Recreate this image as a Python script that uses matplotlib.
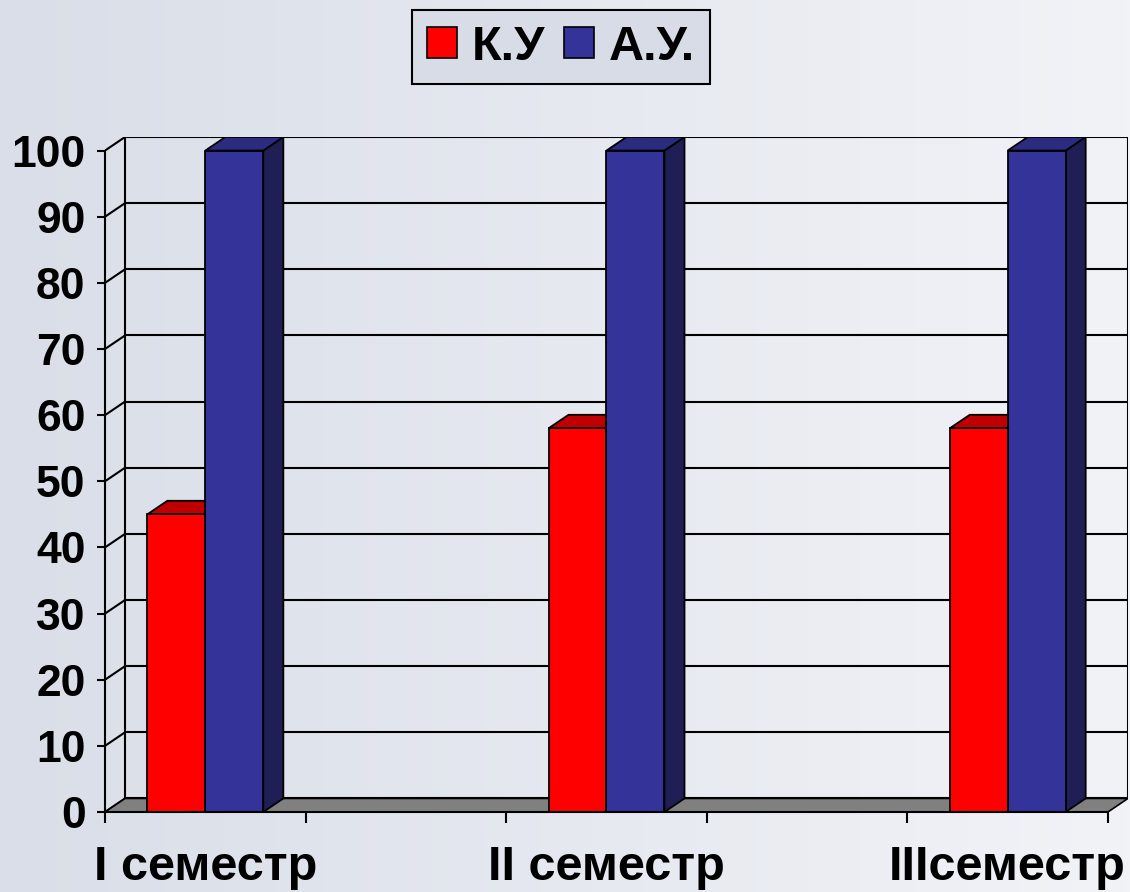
import numpy as np
import matplotlib.pyplot as plt
from matplotlib.patches import Patch, Polygon
from matplotlib.colors import LinearSegmentedColormap

# données
categories = ['I семестр', '', 'II семестр', '', 'IIIсеместр']
ku = [45, None, 58, None, 58]
au = [100, None, 100, None, 100]
series_names = ['К.У', 'А.У.']
yticks = list(range(0, 101, 10))

plt.rcParams['font.family'] = ['Liberation Sans', 'DejaVu Sans']
plt.rcParams['font.weight'] = 'bold'

fig = plt.figure(figsize=(11.3, 8.92), dpi=100)

# fond en dégradé
bg = fig.add_axes([0, 0, 1, 1], zorder=-10)
grad = np.linspace(0, 1, 256).reshape(1, -1)
cmap = LinearSegmentedColormap.from_list('bg', ['#d9dee8', '#f2f3f7'])
bg.imshow(grad, aspect='auto', cmap=cmap, extent=[0, 1, 0, 1])
bg.axis('off')

W, H = 1130, 892
ax = fig.add_axes([105 / W, (H - 812) / H, (1128 - 105) / W, (812 - 137) / H])
ax.set_facecolor('none')

dx, dy = 0.1, 2.05
n = len(categories)
x0, x1 = -0.5, n - 0.5
ax.set_xlim(x0, x1 + dx)
ax.set_ylim(0, 100 + dy)

# murs du fond
for v in yticks:
    ax.plot([x0 + dx, x1 + dx], [v + dy, v + dy], color='black', lw=1.5, zorder=1)
    ax.plot([x0, x0 + dx], [v, v + dy], color='black', lw=1.5, zorder=1)
ax.plot([x0 + dx, x0 + dx], [dy, 100 + dy], color='black', lw=1.5, zorder=1)
ax.plot([x1 + dx, x1 + dx], [dy, 100 + dy], color='black', lw=1.5, zorder=1)

# sol
ax.add_patch(Polygon([(x0, 0), (x1, 0), (x1 + dx, dy), (x0 + dx, dy)],
                     closed=True, facecolor='#808080', edgecolor='black', lw=1.2, zorder=2))

bw = 0.289
colors = [('#ff0000', '#c00000', '#800000'), ('#333399', '#2b2b7f', '#1f1f55')]


def barre_3d(xl, v, cols, z):
    xr = xl + bw
    front, top, side = cols
    ax.add_patch(Polygon([(xr, 0), (xr + dx, dy), (xr + dx, v + dy), (xr, v)],
                         facecolor=side, edgecolor='black', lw=1.3, zorder=z))
    ax.add_patch(Polygon([(xl, v), (xr, v), (xr + dx, v + dy), (xl + dx, v + dy)],
                         facecolor=top, edgecolor='black', lw=1.3, zorder=z))
    ax.add_patch(Polygon([(xl, 0), (xr, 0), (xr, v), (xl, v)],
                         facecolor=front, edgecolor='black', lw=1.3, zorder=z))


for i in range(n):
    if ku[i] is not None:
        barre_3d(i - bw, ku[i], colors[0], 3 + i * 2)
    if au[i] is not None:
        barre_3d(i, au[i], colors[1], 4 + i * 2)

# axes avant
for s in ['top', 'right']:
    ax.spines[s].set_visible(False)
ax.spines['left'].set_bounds(0, 100)
ax.spines['bottom'].set_bounds(x0, x1)
ax.spines['left'].set_linewidth(1.5)
ax.spines['bottom'].set_linewidth(1.5)
ax.spines['left'].set_zorder(20)
ax.spines['bottom'].set_zorder(20)

ax.set_yticks(yticks)
ax.set_yticklabels([str(v) for v in yticks], fontsize=32, fontweight='bold')
ax.tick_params(axis='y', direction='out', length=6, width=1.5, pad=8)

ax.set_xticks(np.arange(x0, x1 + 0.01, 1.0))
ax.set_xticklabels([])
ax.tick_params(axis='x', which='major', direction='out', length=8, width=1.5)
ax.set_xticks(np.arange(n), minor=True)
ax.set_xticklabels(categories, minor=True, fontsize=35, fontweight='bold')
ax.tick_params(axis='x', which='minor', length=0, pad=24)

handles = [Patch(facecolor=colors[0][0], edgecolor='black', lw=1.2),
           Patch(facecolor=colors[1][0], edgecolor='black', lw=1.2)]
leg = fig.legend(handles, series_names, loc='center', bbox_to_anchor=(561 / W, 1 - 47 / H),
                 ncol=2, prop={'weight': 'bold', 'size': 35},
                 frameon=True, fancybox=False, edgecolor='black', facecolor='#d8dce6',
                 framealpha=1, handlelength=0.62, handleheight=0.62, handletextpad=0.3,
                 columnspacing=0.4, borderpad=0.3)
leg.get_frame().set_linewidth(1.5)

fig.savefig('out.png', dpi=100)
